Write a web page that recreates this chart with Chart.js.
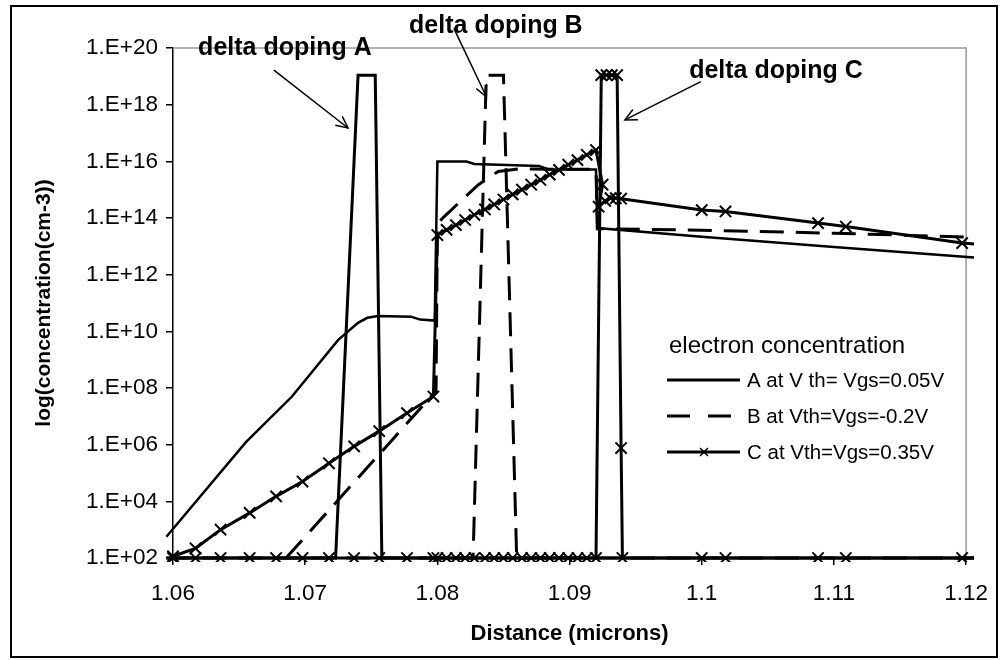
<!DOCTYPE html>
<html><head><meta charset="utf-8">
<script src="https://cdn.jsdelivr.net/npm/chart.js@4.4.0/dist/chart.umd.min.js"></script>
<style>html,body{margin:0;padding:0;background:#fff}canvas{display:block}</style>
</head><body>
<canvas id="c" width="1003" height="660"></canvas>
<script>
// ---------- data ----------
const xTickValues = [1.06, 1.07, 1.08, 1.09, 1.10, 1.11, 1.12];
const yTickValues = [1e2, 1e4, 1e6, 1e8, 1e10, 1e12, 1e14, 1e16, 1e18, 1e20];
const seriesNames = ['A at V th= Vgs=0.05V', 'B at Vth=Vgs=-0.2V', 'C at Vth=Vgs=0.35V'];
const legendTitle = 'electron concentration';

// electron concentration, device A
const xElecA = [1.0595, 1.0655, 1.0690, 1.0725, 1.0740, 1.0747, 1.0755, 1.0780, 1.0787, 1.0798,
  1.0800, 1.0822, 1.0828, 1.0877, 1.0884, 1.0920, 1.0921, 1.1000, 1.1100, 1.1206];
const elecA = [5.6e2, 1.2e6, 5.0e7, 5.0e9, 2.0e10, 3.0e10, 3.5e10, 3.3e10, 2.6e10, 2.4e10,
  9.8e15, 9.8e15, 8.1e15, 6.9e15, 5.2e15, 5.2e15, 4.4e13, 2.2e13, 9.5e12, 4.0e12];

// electron concentration, device B
const xElecB = [1.06855, 1.0767, 1.0799, 1.0800, 1.0805, 1.0820, 1.0831, 1.0846, 1.0861, 1.0920,
  1.0921, 1.1000, 1.1100, 1.1206];
const elecB = [1.0e2, 1.7e6, 7.9e7, 6.3e13, 1.1e14, 5.0e14, 1.5e15, 4.4e15, 5.4e15, 5.2e15,
  4.2e13, 3.7e13, 2.9e13, 2.1e13];

// electron concentration, device C
const xElecC = [1.0600, 1.0617, 1.0636, 1.0658, 1.0678, 1.0698, 1.0718, 1.0737, 1.0756, 1.0777, 1.0797,
  1.0800, 1.0807, 1.0814, 1.0821, 1.0828, 1.0836, 1.0843, 1.0850, 1.0857, 1.0864, 1.0871, 1.0878,
  1.0885, 1.0892, 1.0899, 1.0906, 1.0913, 1.0920,
  1.0925, 1.0922, 1.0927, 1.0931, 1.0935, 1.0939, 1.1000, 1.1018, 1.1088, 1.1109, 1.1197, 1.1206];
const elecC = [1.15e2, 2.2e2, 1.0e3, 3.9e3, 1.5e4, 5.0e4, 2.2e5, 8.7e5, 3.0e6, 1.3e7, 5.0e7,
  2.5e13, 3.8e13, 5.6e13, 8.5e13, 1.3e14, 2.0e14, 3.0e14, 4.5e14, 6.8e14, 1.0e15, 1.5e15, 2.2e15,
  3.4e15, 5.0e15, 7.6e15, 1.1e16, 1.7e16, 2.5e16,
  1.5e15, 2.5e14, 4.0e14, 5.0e14, 5.0e14, 4.8e14, 1.9e14, 1.7e14, 6.6e13, 5.0e13, 1.3e13, 1.2e13];

// delta-doping profiles
const xDopA = [1.0595, 1.0723, 1.0740, 1.0753, 1.0758, 1.1206];
const dopA = [1e2, 1e2, 1.1e19, 1.1e19, 1e2, 1e2];
const xDopB = [1.0595, 1.0827, 1.0837, 1.0850, 1.0860, 1.1206];
const dopB = [1e2, 1e2, 1.1e19, 1.1e19, 1e2, 1e2];
const xDopC = [1.0600, 1.0617, 1.0636, 1.0658, 1.0678, 1.0698, 1.0718, 1.0737, 1.0756, 1.0777, 1.0797,
  1.0800, 1.0807, 1.0814, 1.0821, 1.0828, 1.0836, 1.0843, 1.0850, 1.0857, 1.0864, 1.0871, 1.0878,
  1.0885, 1.0892, 1.0899, 1.0906, 1.0913, 1.0920,
  1.0924, 1.0928, 1.0932, 1.0936, 1.0939, 1.0940, 1.1000, 1.1018, 1.1088, 1.1109, 1.1197, 1.1206];
const dopC = [1e2, 1e2, 1e2, 1e2, 1e2, 1e2, 1e2, 1e2, 1e2, 1e2, 1e2,
  1e2, 1e2, 1e2, 1e2, 1e2, 1e2, 1e2, 1e2, 1e2, 1e2, 1e2, 1e2,
  1e2, 1e2, 1e2, 1e2, 1e2, 1e2,
  1.1e19, 1.1e19, 1.1e19, 1.1e19, 7.6e5, 1e2, 1e2, 1e2, 1e2, 1e2, 1e2, 1e2];

// annotation labels: text, text anchor (x, y), arrow tail, arrow head (data units)
const annotations = [
  {text: 'delta doping A', tx: 1.0619, ty: 5.6e19, ax0: 1.06763, ay0: 1.66e19, ax1: 1.07324, ay1: 1.5e17},
  {text: 'delta doping B', tx: 1.07786, ty: 3.3e20, ax0: 1.08125, ay0: 4.9e20, ax1: 1.08371, ay1: 1.9e18},
  {text: 'delta doping C', tx: 1.09905, ty: 8.5e18, ax0: 1.09993, ay0: 6.5e18, ax1: 1.09419, ay1: 2.9e17}
];

// ---------- build ----------
const FONT = "'Liberation Sans', Arial, sans-serif";
const pts = (xs, ys) => xs.map((x, i) => ({x: x, y: ys[i]}));
const markerRadius = ctx => (ctx.raw && ctx.raw.x > 1.12) ? 0 : 8;
const CLIP = {left: 8, top: 0, right: 10, bottom: 4};
const base = {showLine: true, borderColor: '#000', backgroundColor: '#000', borderWidth: 3,
  tension: 0, clip: CLIP, pointRadius: 0, pointHoverRadius: 0};
const solid = [], dashed = [24, 12];
const datasets = [
  Object.assign({}, base, {label: seriesNames[0], data: pts(xElecA, elecA), borderDash: solid, borderWidth: 2.5}),
  Object.assign({}, base, {label: seriesNames[1], data: pts(xElecB, elecB), borderDash: dashed}),
  Object.assign({}, base, {label: seriesNames[2], data: pts(xElecC, elecC), borderDash: solid,
    pointStyle: 'crossRot', pointRadius: markerRadius, pointBorderWidth: 2, pointBorderColor: '#000'}),
  Object.assign({}, base, {label: 'dopA', data: pts(xDopA, dopA), borderDash: solid}),
  Object.assign({}, base, {label: 'dopB', data: pts(xDopB, dopB), borderDash: dashed}),
  Object.assign({}, base, {label: 'dopC', data: pts(xDopC, dopC), borderDash: solid,
    pointStyle: 'crossRot', pointRadius: markerRadius, pointBorderWidth: 2, pointBorderColor: '#000'})
];

const framePlugin = {
  id: 'frame',
  beforeDraw(chart) {
    const c = chart.ctx;
    c.save();
    c.fillStyle = '#fff';
    c.fillRect(0, 0, chart.width, chart.height);
    c.restore();
  },
  beforeDatasetsDraw(chart) {
    const c = chart.ctx, a = chart.chartArea;
    c.save();
    c.strokeStyle = '#9a9a9a';
    c.lineWidth = 1.5;
    c.beginPath();
    c.moveTo(a.left, a.top); c.lineTo(a.right, a.top); c.lineTo(a.right, a.bottom);
    c.stroke();
    c.restore();
  },
  afterDraw(chart) {
    const c = chart.ctx, xs = chart.scales.x, ys = chart.scales.y;
    c.save();
    // outer frame
    c.strokeStyle = '#000';
    c.lineWidth = 2;
    c.strokeRect(11, 6, 986, 651);
    // annotations
    c.fillStyle = '#000';
    c.font = "bold 25px " + FONT;
    c.textAlign = 'left';
    c.textBaseline = 'alphabetic';
    annotations.forEach(an => {
      c.fillText(an.text, xs.getPixelForValue(an.tx), ys.getPixelForValue(an.ty));
      const x0 = xs.getPixelForValue(an.ax0), y0 = ys.getPixelForValue(an.ay0);
      const x1 = xs.getPixelForValue(an.ax1), y1 = ys.getPixelForValue(an.ay1);
      c.lineWidth = 1.5;
      c.beginPath(); c.moveTo(x0, y0); c.lineTo(x1, y1); c.stroke();
      const ang = Math.atan2(y1 - y0, x1 - x0), L = 13, w = 0.45;
      c.beginPath();
      c.moveTo(x1 - L * Math.cos(ang - w), y1 - L * Math.sin(ang - w));
      c.lineTo(x1, y1);
      c.lineTo(x1 - L * Math.cos(ang + w), y1 - L * Math.sin(ang + w));
      c.stroke();
    });
    // legend
    c.font = "24px " + FONT;
    c.textBaseline = 'alphabetic';
    c.fillText(legendTitle, 669, 353);
    const rows = [380, 416, 452];
    c.font = "20.5px " + FONT;
    c.textBaseline = 'middle';
    [0, 1, 2].forEach(i => {
      const ds = chart.data.datasets[i];
      const y = rows[i];
      c.lineWidth = 3;
      c.setLineDash(i === 1 ? [23, 18] : []);
      c.beginPath(); c.moveTo(667, y); c.lineTo(740, y); c.stroke();
      c.setLineDash([]);
      if (ds.pointStyle === 'crossRot') {
        c.lineWidth = 1.5;
        c.beginPath();
        c.moveTo(700, y - 4); c.lineTo(708, y + 4);
        c.moveTo(708, y - 4); c.lineTo(700, y + 4);
        c.stroke();
      }
      c.fillText(ds.label, 747, y + 1);
    });
    c.restore();
  }
};

new Chart(document.getElementById('c'), {
  type: 'scatter',
  data: {datasets: datasets},
  options: {
    responsive: false,
    devicePixelRatio: 1,
    animation: false,
    events: [],
    layout: {padding: {left: 0, top: 48, right: 28, bottom: 0}},
    plugins: {legend: {display: false}, tooltip: {enabled: false}},
    scales: {
      x: {
        type: 'linear', min: 1.06, max: 1.12,
        afterBuildTicks: s => { s.ticks = xTickValues.map(v => ({value: v})); },
        afterFit: s => { s.height = 102; },
        ticks: {callback: v => String(+Number(v).toFixed(2)), font: {size: 22.5, family: FONT},
          color: '#000', padding: 15, maxRotation: 0, autoSkip: false},
        grid: {drawOnChartArea: false, drawTicks: true, tickLength: 7, color: '#000', lineWidth: 1.5},
        border: {display: true, color: '#000', width: 1.5},
        title: {display: true, text: 'Distance (microns)', color: '#000',
          font: {size: 22, weight: 'bold', family: FONT}, padding: {top: 0, bottom: 13}}
      },
      y: {
        type: 'logarithmic', min: 1e2, max: 1e20,
        afterBuildTicks: s => { s.ticks = yTickValues.map(v => ({value: v})); },
        afterFit: s => { s.width = 173; },
        ticks: {callback: v => { const e = Math.round(Math.log10(v)); return '1.E+' + (e < 10 ? '0' + e : e); },
          font: {size: 22.5, family: FONT}, color: '#000', padding: 8, autoSkip: false},
        grid: {drawOnChartArea: false, drawTicks: true, tickLength: 7, color: '#000', lineWidth: 1.5},
        border: {display: true, color: '#000', width: 1.5},
        title: {display: true, text: 'log(concentration(cm-3))', color: '#000',
          font: {size: 21, weight: 'bold', family: FONT}, padding: {top: 32, bottom: 0}}
      }
    }
  },
  plugins: [framePlugin]
});
</script>
</body></html>
